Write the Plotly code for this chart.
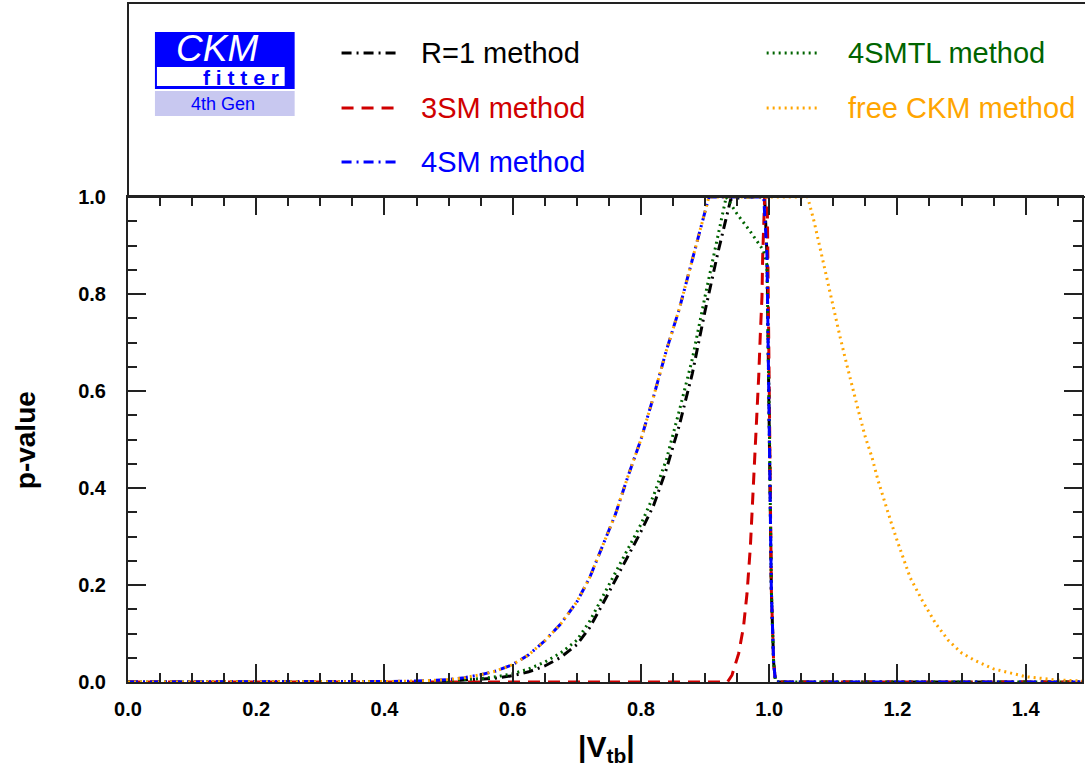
import plotly.graph_objects as go

# ---------------- data ----------------
x_ticks = [0.0, 0.2, 0.4, 0.6, 0.8, 1.0, 1.2, 1.4]
y_ticks = [0.0, 0.2, 0.4, 0.6, 0.8, 1.0]

r1_x = [0.00, 0.40, 0.45, 0.50, 0.55, 0.575, 0.60, 0.625, 0.65, 0.675, 0.70, 0.72, 0.74, 0.76,
        0.78, 0.80, 0.82, 0.84, 0.86, 0.88, 0.90, 0.92, 0.94, 0.96, 0.98, 0.993, 0.9966,
        1.0003, 1.0034, 1.007, 1.0096, 1.012, 1.20, 1.49]
r1_p = [0, 0, 0.0005, 0.002, 0.005, 0.008, 0.013, 0.021, 0.033, 0.051, 0.077, 0.112, 0.16, 0.21,
        0.26, 0.31, 0.365, 0.44, 0.53, 0.635, 0.765, 0.885, 0.995, 1, 1, 1, 0.88,
        0.53, 0.19, 0.04, 0.005, 0, 0, 0]

sm3_x = [0.00, 0.935, 0.942, 0.9525, 0.960, 0.9655, 0.9707, 0.973, 0.9785, 0.981, 0.9837,
         0.9863, 0.9888, 0.9899, 0.9914, 0.993, 0.997, 1.0003, 1.0034, 1.007, 1.0096, 1.012,
         1.20, 1.49]
sm3_p = [0, 0, 0.014, 0.059, 0.114, 0.183, 0.279, 0.34, 0.478, 0.547, 0.63,
         0.719, 0.794, 0.877, 0.946, 1.0, 1.0, 0.53, 0.19, 0.04, 0.005, 0,
         0, 0]

sm4_x = [0.00, 0.35, 0.40, 0.45, 0.50, 0.525, 0.55, 0.575, 0.60, 0.625, 0.65, 0.675, 0.70,
         0.72, 0.74, 0.76, 0.78, 0.80, 0.82, 0.84, 0.86, 0.88, 0.90, 0.906, 0.95, 0.9915,
         0.9966, 1.0003, 1.0034, 1.007, 1.0096, 1.012, 1.20, 1.49]
sm4_p = [0, 0, 0.0008, 0.002, 0.005, 0.009, 0.015, 0.023, 0.036, 0.056, 0.085, 0.12, 0.165,
         0.215, 0.28, 0.345, 0.425, 0.50, 0.59, 0.685, 0.77, 0.87, 0.975, 1.0, 1.0, 1.0,
         0.88, 0.53, 0.19, 0.04, 0.005, 0, 0, 0]

tl_x = [0.00, 0.40, 0.45, 0.50, 0.55, 0.575, 0.60, 0.625, 0.65, 0.675, 0.70, 0.72, 0.74, 0.76,
        0.78, 0.80, 0.82, 0.84, 0.86, 0.88, 0.90, 0.92, 0.933, 0.95, 0.97, 0.991, 0.9966,
        1.0003, 1.0034, 1.007, 1.0096, 1.012, 1.20, 1.49]
tl_p = [0, 0, 0.001, 0.003, 0.007, 0.011, 0.017, 0.027, 0.041, 0.06, 0.086, 0.125, 0.175, 0.225,
        0.275, 0.325, 0.385, 0.46, 0.56, 0.665, 0.795, 0.915, 1.0, 0.965, 0.93, 0.89, 0.86,
        0.53, 0.19, 0.04, 0.005, 0, 0, 0]

free_x = [0.00, 0.35, 0.40, 0.45, 0.50, 0.525, 0.55, 0.575, 0.60, 0.625, 0.65, 0.675, 0.70,
          0.72, 0.74, 0.76, 0.78, 0.80, 0.82, 0.84, 0.86, 0.88, 0.90, 0.906, 1.00, 1.06, 1.07,
          1.08, 1.09, 1.10, 1.11, 1.12, 1.13, 1.14, 1.15, 1.16, 1.17, 1.18, 1.19, 1.20, 1.22,
          1.24, 1.26, 1.28, 1.30, 1.32, 1.35, 1.40, 1.45, 1.49]
free_p = [0, 0, 0.0008, 0.002, 0.005, 0.009, 0.015, 0.023, 0.036, 0.056, 0.085, 0.12, 0.165,
          0.215, 0.28, 0.345, 0.425, 0.50, 0.59, 0.685, 0.77, 0.87, 0.975, 1.0, 1.0, 1.0, 0.95,
          0.89, 0.83, 0.77, 0.715, 0.66, 0.605, 0.555, 0.505, 0.465, 0.415, 0.37, 0.33, 0.29, 0.215,
          0.165, 0.12, 0.085, 0.06, 0.045, 0.027, 0.011, 0.004, 0.002]

names = ["R=1 method", "3SM method", "4SM method", "4SMTL method", "free CKM method"]
colors = ["#000000", "#d00000", "#0000ff", "#006400", "#ffa500"]
dashes = ["10px,5px,2px,5px", "12px,8px", "10px,5px,2px,5px", "2px,4px", "2px,4px"]

# ---------------- geometry helpers ----------------
W, H = 1085, 770
PL, PR, PT, PB = 128, 1084, 197, 682   # plot area in page pixels
L, T = PL, PT
R, B = W - PR, H - PB
PW, PH = PR - PL, PB - PT
XMAX = PW / 642.5


def px(xp):
    return (xp - PL) / PW


def py(yp):
    return (PB - yp) / PH


FONT = "Liberation Sans, Arial, Helvetica, sans-serif"

fig = go.Figure()
series = [(r1_x, r1_p), (sm3_x, sm3_p), (sm4_x, sm4_p), (tl_x, tl_p), (free_x, free_p)]
order = [0, 1, 3, 2, 4]
for i in order:
    xs, ps = series[i]
    fig.add_trace(go.Scatter(x=xs, y=ps, mode="lines", name=names[i], showlegend=False,
                             line=dict(color=colors[i], width=3, dash=dashes[i])))

shapes = []
annotations = []

# frame above plot (legend box)
shapes.append(dict(type="rect", xref="paper", yref="paper", x0=0, x1=1.01, y0=1, y1=py(3),
                   line=dict(color="#222", width=2), fillcolor="rgba(0,0,0,0)", layer="above"))

# CKMfitter logo
shapes.append(dict(type="rect", xref="paper", yref="paper", x0=px(155), x1=px(295), y0=py(89), y1=py(32),
                   line=dict(width=0), fillcolor="#0000ff"))
shapes.append(dict(type="rect", xref="paper", yref="paper", x0=px(157), x1=px(285), y0=py(86), y1=py(67),
                   line=dict(width=0), fillcolor="#ffffff"))
shapes.append(dict(type="rect", xref="paper", yref="paper", x0=px(155), x1=px(295), y0=py(116), y1=py(91),
                   line=dict(width=0), fillcolor="#c8c8f0"))
annotations.append(dict(text="<i>CKM</i>", x=px(217), y=py(48), xref="paper", yref="paper", showarrow=False,
                        font=dict(family=FONT, size=37, color="#ffffff"), xanchor="center", yanchor="middle"))
annotations.append(dict(text="<b>f i t t e r</b>", x=px(241), y=py(77), xref="paper", yref="paper",
                        showarrow=False, font=dict(family=FONT, size=21, color="#0000ff"),
                        xanchor="center", yanchor="middle"))
annotations.append(dict(text="4th Gen", x=px(223), y=py(104), xref="paper", yref="paper", showarrow=False,
                        font=dict(family=FONT, size=18, color="#0000ff"), xanchor="center", yanchor="middle"))

# legend (manual)
leg_pos = [(342, 397, 420, 53), (342, 397, 420, 108), (342, 397, 420, 162),
           (768, 822, 848, 53), (768, 822, 848, 108)]
for i, (lx0, lx1, tx, ly) in enumerate(leg_pos):
    shapes.append(dict(type="line", xref="paper", yref="paper", x0=px(lx0), x1=px(lx1), y0=py(ly), y1=py(ly),
                       line=dict(color=colors[i], width=3, dash=dashes[i])))
    annotations.append(dict(text=names[i], x=px(tx), y=py(ly), xref="paper", yref="paper", showarrow=False,
                            font=dict(family=FONT, size=29, color=colors[i]), xanchor="left", yanchor="middle"))

# axis titles
annotations.append(dict(text="<b>p-value</b>", x=px(25), y=py(440), xref="paper", yref="paper", showarrow=False,
                        textangle=-90, font=dict(family=FONT, size=28, color="#000"),
                        xanchor="center", yanchor="middle"))
annotations.append(dict(text="<b>|V<sub>tb</sub>|</b>", x=px(608), y=py(748), xref="paper", yref="paper",
                        showarrow=False, font=dict(family=FONT, size=30, color="#000"),
                        xanchor="center", yanchor="middle"))

axis_common = dict(showgrid=False, zeroline=False, showline=True, linecolor="#222", linewidth=2,
                   mirror="ticks", ticks="inside", ticklen=18, tickwidth=2, tickcolor="#222",
                   tickfont=dict(family=FONT, size=20, color="#000", weight="bold"),
                   tickformat=".1f",
                   minor=dict(dtick=0.05, ticks="inside", ticklen=9, tickwidth=2, tickcolor="#222"))

fig.update_layout(
    width=W, height=H,
    margin=dict(l=L, r=R, t=T, b=B, pad=0),
    paper_bgcolor="white", plot_bgcolor="white",
    xaxis=dict(range=[0, XMAX], tickvals=x_ticks, ticklabelstandoff=8, **axis_common),
    yaxis=dict(range=[0, 1], tickvals=y_ticks, ticklabelstandoff=16, **axis_common),
    shapes=shapes, annotations=annotations,
)

fig.write_html("out.html", config={"displayModeBar": False},
               post_script="document.body.style.margin='0px';document.body.style.overflow='hidden';")
